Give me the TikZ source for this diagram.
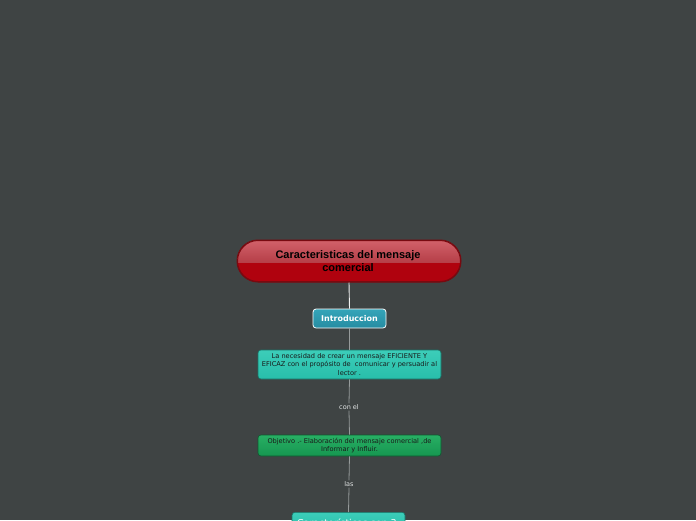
\documentclass[tikz,border=0pt]{standalone}
\usepackage{fontspec}
\setmainfont{DejaVu Sans}
\newfontfamily\arialfont{Liberation Sans}
\usetikzlibrary{shapes.misc}
\definecolor{bgc}{RGB}{63,68,68}
\definecolor{rootdark}{RGB}{176,2,14}
\definecolor{rootlight}{RGB}{202,70,80}
\definecolor{rootedge}{RGB}{120,10,16}
\definecolor{introc}{RGB}{38,140,162}
\definecolor{introtop}{RGB}{52,165,185}
\definecolor{tealc}{RGB}{40,190,170}
\definecolor{tealtop}{RGB}{60,205,185}
\definecolor{greenc}{RGB}{22,150,80}
\definecolor{greentop}{RGB}{40,175,100}
\definecolor{linec}{RGB}{150,155,155}
\definecolor{labc}{RGB}{225,228,228}
\tikzset{
  conn/.style={draw=linec, line width=0.8pt},
  lab/.style={text=labc, font=\fontsize{6.5}{7}\selectfont, inner sep=1pt},
  box/.style={rounded corners=3pt, inner sep=0pt, align=center},
}
\begin{document}
\begin{tikzpicture}[x=1pt,y=-1pt]
\fill[bgc] (0,0) rectangle (696,520);
\useasboundingbox (0,0) rectangle (696,520);
\clip (0,0) rectangle (696,520);
% root
\node[rounded rectangle, draw=rootedge, line width=1pt, fill=rootdark, minimum width=224pt, minimum height=42pt, inner sep=0pt] (root) at (349,261) {};
\begin{scope}
\clip (237.5,240.5) [rounded corners=20pt] rectangle (460.5,281.5);
\fill[top color=rootlight!85!white, bottom color=rootlight!90!black] (237,240) rectangle (461,262);
\end{scope}
\draw[rootedge, line width=1pt, rounded corners=20.5pt] (237.5,240.5) rectangle (460.5,281.5);
\node[align=center, font=\arialfont\bfseries\fontsize{11}{13}\selectfont, text=black] at (348,261) {Caracteristicas del mensaje\\comercial};
% intro
\node[box, draw=white, line width=0.8pt, top color=introtop, bottom color=introc, minimum width=73pt, minimum height=19pt, text=white, font=\bfseries\fontsize{8}{9}\selectfont] (intro) at (349.5,318.5) {Introduccion};
% necesidad
\node[box, draw=tealc!60!black, line width=0.6pt, top color=tealtop, bottom color=tealc, minimum width=183pt, minimum height=29pt, text=black!90, font=\fontsize{6.6}{8.2}\selectfont] (nec) at (349.5,364.5) {La necesidad de crear un mensaje EFICIENTE Y\\EFICAZ con el propósito de \ comunicar y persuadir al\\lector .};
% objetivo
\node[box, draw=greenc!60!black, line width=0.6pt, top color=greentop, bottom color=greenc, minimum width=183pt, minimum height=21pt, text=black!90, font=\fontsize{6.6}{8.2}\selectfont] (obj) at (349.5,445.5) {Objetivo .- Elaboración del mensaje comercial ,de\\Informar y Influir.};
% caracteristicas
\node[box, draw=tealc!60!black, line width=0.6pt, top color=tealtop, bottom color=tealc, minimum width=113pt, minimum height=20pt, text=white, font=\fontsize{9.5}{11}\selectfont, anchor=north] (car) at (348.5,512) {Características son 3:};
% labels
\node[lab] (l1) at (349,407) {con el};
\node[lab] (l2) at (349,484) {las};
% connectors
\draw[draw=white!90!gray, line width=0.9pt] (root.south) -- (intro.north);
\draw[conn] (intro.south) -- (nec.north);
\draw[conn] (nec.south) -- (l1.north);
\draw[conn] (l1.south) -- (obj.north);
\draw[conn] (obj.south) -- (l2.north);
\draw[conn] (l2.south) -- (car.north);
\end{tikzpicture}
\end{document}
